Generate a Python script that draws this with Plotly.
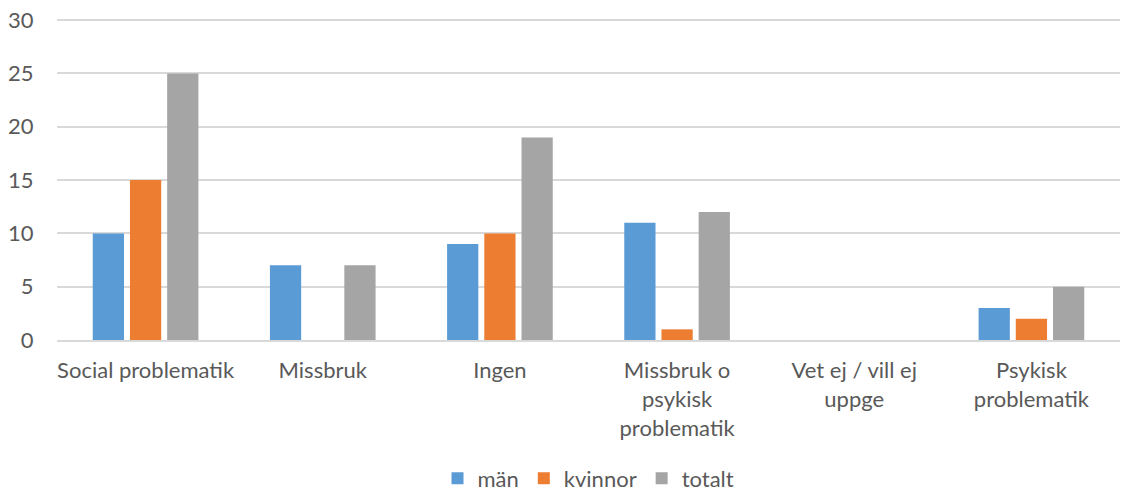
import plotly.graph_objects as go

categories = ["Social problematik", "Missbruk", "Ingen",
              "Missbruk o<br>psykisk<br>problematik",
              "Vet ej / vill ej<br>uppge", "Psykisk<br>problematik"]
man = [10, 7, 9, 11, 0, 3]
kvinnor = [15, 0, 10, 1, 0, 2]
totalt = [25, 7, 19, 12, 0, 5]
series_names = ["män", "kvinnor", "totalt"]
colors = ["#5B9BD5", "#ED7D31", "#A5A5A5"]

font_family = "Lato, 'Open Sans', sans-serif"
text_color = "#595959"

fig = go.Figure()
for name, vals, col in zip(series_names, [man, kvinnor, totalt], colors):
    fig.add_trace(go.Bar(x=categories, y=vals, name=name, marker_color=col,
                         marker_line_width=0))

# page body has an 8px default margin; compensate in figure margins
fig.update_layout(
    width=1138, height=490,
    margin=dict(l=49, r=26, t=10, b=158, autoexpand=False),
    paper_bgcolor="white", plot_bgcolor="white",
    barmode="group", bargap=0.37, bargroupgap=0.16,
    font=dict(family=font_family, size=22, color=text_color),
    showlegend=True,
    legend=dict(orientation="h", x=0.5, xanchor="center", y=-0.43, yanchor="middle",
                font=dict(size=22, color=text_color), itemwidth=30,
                traceorder="normal"),
)
fig.update_xaxes(showgrid=False, showline=True, linecolor="#D9D9D9", linewidth=2,
                 ticks="outside", ticklen=10, tickcolor="rgba(0,0,0,0)",
                 tickfont=dict(size=22, color=text_color), tickangle=0,
                 automargin=False)
fig.update_yaxes(range=[0, 30.2], tick0=0, dtick=5, showgrid=True, gridcolor="#D9D9D9",
                 gridwidth=1.5, zeroline=False, showline=False,
                 ticks="outside", ticklen=18, tickcolor="rgba(0,0,0,0)",
                 tickfont=dict(size=22, color=text_color), automargin=False,
                 ticklabeloverflow="allow")

fig.write_html("out.html")
